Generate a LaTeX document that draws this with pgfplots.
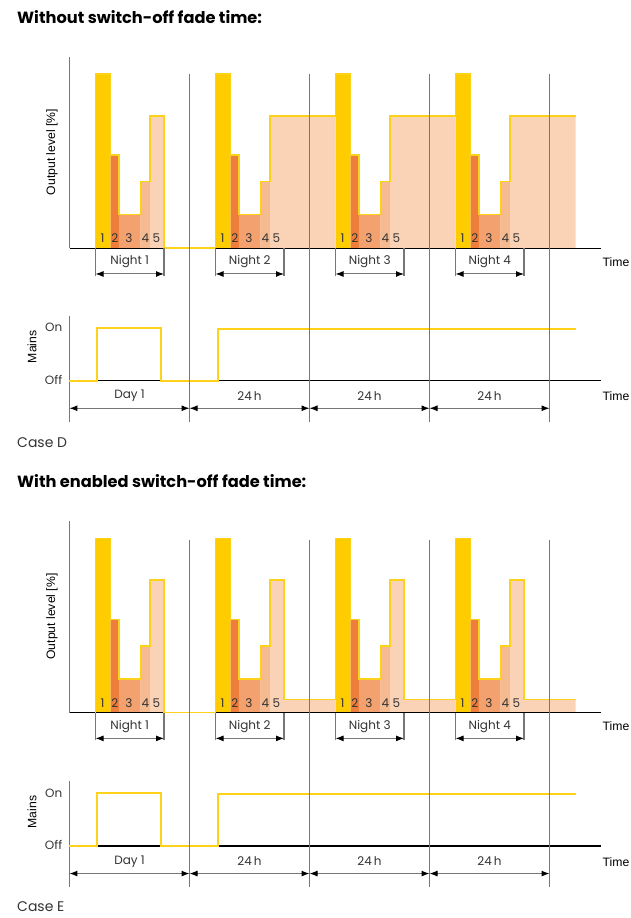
\documentclass[border=0pt]{standalone}
\usepackage{pgfplots}
\pgfplotsset{compat=1.18}
\usepackage{fontspec}
\setmainfont{Poppins}
\newfontfamily\ari{Liberation Sans}
\usetikzlibrary{arrows.meta}
\definecolor{cY}{HTML}{FFCC00}
\definecolor{cL}{HTML}{FFD21A}
\definecolor{cB}{HTML}{EE7E3C}
\definecolor{cC}{HTML}{F3A16E}
\definecolor{cD}{HTML}{F6BA91}
\definecolor{cE}{HTML}{FAD3B7}
\definecolor{cG}{HTML}{777777}
\definecolor{cT}{HTML}{333333}
\newcommand{\lab}{\fontsize{12}{14}\selectfont}
\newcommand{\alab}{\ari\fontsize{12.2}{14}\selectfont}
\pgfplotsset{
  base/.style={scale only axis, hide axis, clip=false, anchor=south west,
    xmin=0, xmax=106.2, width=531pt},
  bars/.style={base, ymin=0, ymax=110, height=191.4pt},
  mains/.style={base, ymin=0, ymax=1.22, height=64.66pt},
}
\tikzset{arr/.style={draw=cG, line width=1pt,
  {Latex[length=8pt,width=6pt,color=black]}-{Latex[length=8pt,width=6pt,color=black]}}}
\newcommand{\night}[2]{%
  \draw[cG, line width=1.1pt] (axis cs:#1,0) -- ++(0,-27.5pt);
  \draw[cG, line width=1.1pt] ([xshift=68.5pt]axis cs:#1,0) -- ++(0,-27.5pt);
  \draw[arr] ([yshift=-25.7pt]axis cs:#1,0) -- ++(68.5pt,0);
  \node[font=\lab, text=cT] at ([xshift=34.25pt,yshift=-13.4pt]axis cs:#1,0) {#2};
  \node[font=\lab, text=cT] at ([xshift=7pt,yshift=9.9pt]axis cs:#1,0) {1};
  \node[font=\lab, text=cT] at ([xshift=19.3pt,yshift=9.9pt]axis cs:#1,0) {2};
  \node[font=\lab, text=cT] at ([xshift=33.5pt,yshift=9.9pt]axis cs:#1,0) {3};
  \node[font=\lab, text=cT] at ([xshift=50pt,yshift=9.9pt]axis cs:#1,0) {4};
  \node[font=\lab, text=cT] at ([xshift=61pt,yshift=9.9pt]axis cs:#1,0) {5};
}
\newcommand{\commonbars}{%
  \addplot[const plot, fill=cY, draw=none] coordinates {(5.2,100)(8.2,0)(29.2,100)(32.2,0)(53.2,100)(56.2,0)(77.2,100)(80.2,0)} \closedcycle;
  \addplot[const plot, fill=cB, draw=none] coordinates {(8.2,53.6)(9.9,0)(32.2,53.6)(33.9,0)(56.2,53.6)(57.9,0)(80.2,53.6)(81.9,0)} \closedcycle;
  \addplot[const plot, fill=cC, draw=none] coordinates {(9.9,19.5)(14.2,0)(33.9,19.5)(38.2,0)(57.9,19.5)(62.2,0)(81.9,19.5)(86.2,0)} \closedcycle;
  \addplot[const plot, fill=cD, draw=none] coordinates {(14.2,38.3)(16.1,0)(38.2,38.3)(40.1,0)(62.2,38.3)(64.1,0)(86.2,38.3)(88.1,0)} \closedcycle;
}
\newcommand{\barsdeco}{%
  \draw[black, line width=1.1pt] (axis cs:0,0) -- (axis cs:106.2,0);
  \draw[cG, line width=1.2pt] (axis cs:0,0) -- (axis cs:0,110);
  \node[font=\alab, rotate=90] at (axis cs:-3.5,55.3) {Output level [\%]};
  \node[font=\alab, anchor=west, inner sep=0pt] at (axis cs:106.6,-7.9) {Time};
}
\newcommand{\mainsdeco}{%
  \draw[black, line width=1.1pt] (axis cs:0,0) -- (axis cs:106.2,0);
  \draw[cG, line width=1.2pt] (axis cs:0,1.22) -- (axis cs:0,-0.774);
  \addplot[const plot, cL, line width=1.7pt, line join=miter] coordinates {(0,0)(5.56,1)(18.24,0)(29.76,0.975)(101.3,0.975)};
  \draw[cG, line width=1.3pt] (axis cs:24,-0.774) -- (axis cs:24,5.78);
  \draw[cG, line width=1.3pt] (axis cs:48,-0.774) -- (axis cs:48,5.78);
  \draw[cG, line width=1.3pt] (axis cs:72,-0.774) -- (axis cs:72,5.78);
  \draw[cG, line width=1.3pt] (axis cs:96,-0.774) -- (axis cs:96,5.78);
  \draw[arr] (axis cs:0,-0.52) -- (axis cs:24,-0.52);
  \draw[arr] (axis cs:24,-0.52) -- (axis cs:48,-0.52);
  \draw[arr] (axis cs:48,-0.52) -- (axis cs:72,-0.52);
  \draw[arr] (axis cs:72,-0.52) -- (axis cs:96,-0.52);
  \node[font=\lab, text=cT] at (axis cs:12,-0.29) {Day 1};
  \node[font=\lab, text=cT] at (axis cs:36,-0.29) {24\,h};
  \node[font=\lab, text=cT] at (axis cs:60,-0.29) {24\,h};
  \node[font=\lab, text=cT] at (axis cs:84,-0.29) {24\,h};
  \node[font=\lab, text=cT, anchor=east, inner sep=0pt] at (axis cs:-1.4,1.0) {On};
  \node[font=\lab, text=cT, anchor=east, inner sep=0pt] at (axis cs:-1.4,0.02) {Off};
  \node[font=\alab, rotate=90] at (axis cs:-7.5,0.64) {Mains};
  \node[font=\alab, anchor=west, inner sep=0pt] at (axis cs:106.6,-0.30) {Time};
}
\begin{document}
\begin{tikzpicture}
\useasboundingbox (0,0) rectangle (631pt,918pt);
\node[anchor=west, inner sep=0pt, font=\bfseries\fontsize{16.2}{18}\selectfont] at (17pt,901pt) {Without switch-off fade time:};
\node[anchor=west, inner sep=0pt, font=\fontsize{14}{16}\selectfont, text=cT] at (17pt,475pt) {Case D};
\node[anchor=west, inner sep=0pt, font=\bfseries\fontsize{16.2}{18}\selectfont] at (17pt,437pt) {With enabled switch-off fade time:};
\node[anchor=west, inner sep=0pt, font=\fontsize{14}{16}\selectfont, text=cT] at (17pt,11pt) {Case E};
% Case D output level
\begin{axis}[bars, at={(69.5pt,669.7pt)}]
\commonbars
\addplot[const plot, fill=cE, draw=none] coordinates {(16.1,76.2)(18.9,0)(40.1,76.2)(53.2,0)(64.1,76.2)(77.2,0)(88.1,76.2)(101.2,0)} \closedcycle;
\barsdeco
\addplot[const plot, cL, line width=1.6pt] coordinates {(5.2,0)(5.2,100)(8.2,53.6)(9.9,19.5)(14.2,38.3)(16.1,76.2)(18.9,0)(29.2,100)(32.2,53.6)(33.9,19.5)(38.2,38.3)(40.1,76.2)(53.2,100)(56.2,53.6)(57.9,19.5)(62.2,38.3)(64.1,76.2)(77.2,100)(80.2,53.6)(81.9,19.5)(86.2,38.3)(88.1,76.2)(101.2,76.2)};
\night{5.2}{Night 1}
\night{29.2}{Night 2}
\night{53.2}{Night 3}
\night{77.2}{Night 4}
\end{axis}
% Case D mains
\begin{axis}[mains, at={(69.5pt,537.3pt)}]
\mainsdeco
\end{axis}
% Case E output level
\begin{axis}[bars, at={(69.5pt,205.3pt)}]
\commonbars
\addplot[const plot, fill=cE, draw=none] coordinates {(16.1,76.2)(18.9,0)(40.1,76.2)(42.9,7.7)(53.2,0)(64.1,76.2)(66.9,7.7)(77.2,0)(88.1,76.2)(90.9,7.7)(101.2,0)} \closedcycle;
\barsdeco
\addplot[const plot, cL, line width=1.6pt] coordinates {(5.2,0)(5.2,100)(8.2,53.6)(9.9,19.5)(14.2,38.3)(16.1,76.2)(18.9,0)(29.2,100)(32.2,53.6)(33.9,19.5)(38.2,38.3)(40.1,76.2)(42.9,7.7)(53.2,100)(56.2,53.6)(57.9,19.5)(62.2,38.3)(64.1,76.2)(66.9,7.7)(77.2,100)(80.2,53.6)(81.9,19.5)(86.2,38.3)(88.1,76.2)(90.9,7.7)(101.2,7.7)};
\night{5.2}{Night 1}
\night{29.2}{Night 2}
\night{53.2}{Night 3}
\night{77.2}{Night 4}
\end{axis}
% Case E mains
\begin{axis}[mains, at={(69.5pt,72pt)}]
\mainsdeco
\end{axis}
\end{tikzpicture}
\end{document}
